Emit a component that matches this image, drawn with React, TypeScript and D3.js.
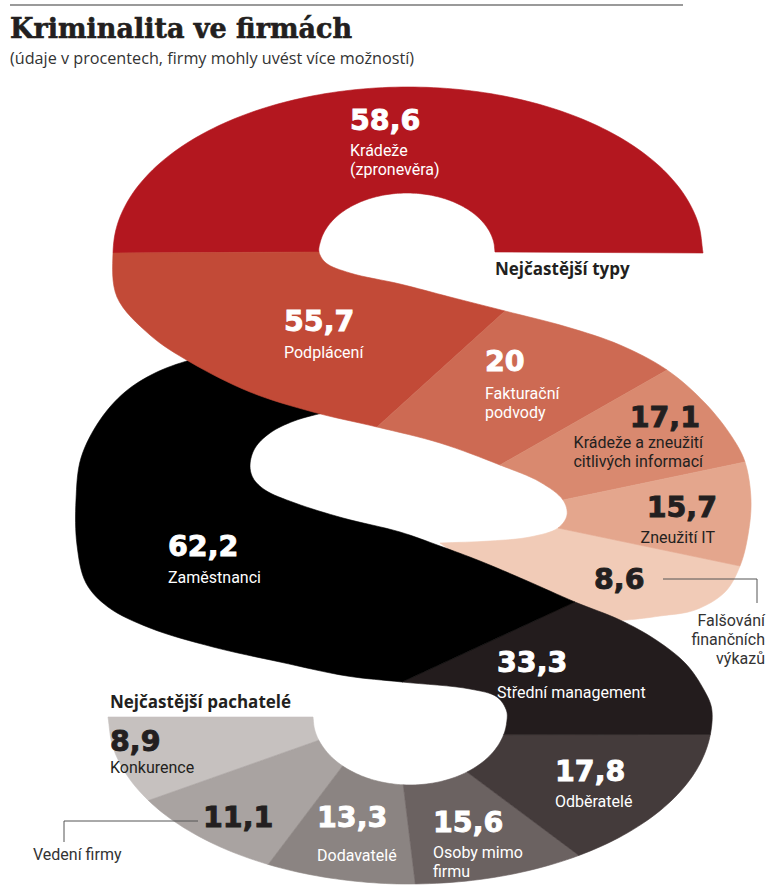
import React from "react";
import * as d3 from "d3";

// ---------------- data ----------------
const typeValues = [58.6, 55.7, 20, 17.1, 15.7, 8.6];
const typeLabels: string[][] = [
  ["Krádeže", "(zpronevěra)"],
  ["Podplácení"],
  ["Fakturační", "podvody"],
  ["Krádeže a zneužití", "citlivých informací"],
  ["Zneužití IT"],
  ["Falšování", "finančních", "výkazů"],
];
const typeColors = ["#b3171f", "#c24a37", "#cd6a53", "#d9896f", "#e4a68d", "#f1cbb7"];

const perpValues = [8.9, 11.1, 13.3, 15.6, 17.8, 33.3, 62.2];
const perpLabels: string[][] = [
  ["Konkurence"],
  ["Vedení firmy"],
  ["Dodavatelé"],
  ["Osoby mimo", "firmu"],
  ["Odběratelé"],
  ["Střední management"],
  ["Zaměstnanci"],
];
const perpColors = ["#c6c1bf", "#a9a3a1", "#8b8482", "#6b6261", "#443b3b", "#231c1d", "#000000"];

const title = "Kriminalita ve firmách";
const subtitle = "(údaje v procentech, firmy mohly uvést více možností)";
const typesHeading = "Nejčastější typy";
const perpHeading = "Nejčastější pachatelé";

// ---------------- layout (label placement) ----------------
const DARK = "#231f20";
type Lay = { x: number; y: number; anchor: "start" | "end"; fill: string; lx: number; ly: number; lanchor: "start" | "end"; lfill: string; gap: number };
const typeLayout: Lay[] = [
  { x: 350, y: 130, anchor: "start", fill: "#fff", lx: 350, ly: 156, lanchor: "start", lfill: "#fff", gap: 19 },
  { x: 284, y: 331, anchor: "start", fill: "#fff", lx: 284, ly: 358, lanchor: "start", lfill: "#fff", gap: 19 },
  { x: 485, y: 371, anchor: "start", fill: "#fff", lx: 485, ly: 399, lanchor: "start", lfill: "#fff", gap: 19 },
  { x: 700, y: 427, anchor: "end", fill: DARK, lx: 703, ly: 448, lanchor: "end", lfill: DARK, gap: 19 },
  { x: 717, y: 517, anchor: "end", fill: DARK, lx: 715, ly: 543, lanchor: "end", lfill: DARK, gap: 19 },
  { x: 594, y: 589, anchor: "start", fill: DARK, lx: 765, ly: 626, lanchor: "end", lfill: "#333", gap: 19 },
];
const perpLayout: Lay[] = [
  { x: 110, y: 751, anchor: "start", fill: DARK, lx: 110, ly: 773, lanchor: "start", lfill: DARK, gap: 19 },
  { x: 203, y: 827, anchor: "start", fill: DARK, lx: 33, ly: 860, lanchor: "start", lfill: "#333", gap: 19 },
  { x: 317, y: 827, anchor: "start", fill: "#fff", lx: 317, ly: 861, lanchor: "start", lfill: "#fff", gap: 19 },
  { x: 433, y: 832, anchor: "start", fill: "#fff", lx: 433, ly: 858, lanchor: "start", lfill: "#fff", gap: 19 },
  { x: 555, y: 781, anchor: "start", fill: "#fff", lx: 555, ly: 807, lanchor: "start", lfill: "#fff", gap: 19 },
  { x: 497, y: 672, anchor: "start", fill: "#fff", lx: 497, ly: 698, lanchor: "start", lfill: "#fff", gap: 19 },
  { x: 168, y: 556, anchor: "start", fill: "#fff", lx: 168, ly: 583, lanchor: "start", lfill: "#fff", gap: 19 },
];

// ---------------- § shape geometry ----------------
type Key = number[]; // [x, y, boundaryId?]
const rad = Math.PI / 180;
function ell(cx: number, cy: number, rx: number, ry: number, angles: number[], marks: number[][]): Key[] {
  return angles.map((a) => {
    const k: Key = [cx + rx * Math.cos(a * rad), cy + ry * Math.sin(a * rad)];
    const m = marks.find((mm) => mm[0] === a);
    if (m) k.push(m[1]);
    return k;
  });
}

// upper S (types): A = outer edge of top arc -> lower band edge -> hole tip
const S1A: Key[] = [
  ...ell(408, 253, 295, 166, d3.range(0, -181, -10), [[0, 0], [-180, 1]]),
  [117, 297], [150, 335], [190, 362], [250, 392], [313, 412], [377, 427, 2], [440, 443], [500, 465, 3],
  [540, 482], [563, 500, 4], [567, 515], [558, 528, 5], [530, 537], [490, 541], [440, 543, 6],
];
const S1B: Key[] = [
  ...ell(407, 252, 88, 59, d3.range(0, -181, -10), [[0, 0], [-180, 1]]),
  [326, 263], [350, 273], [400, 284], [450, 297], [505, 311, 2], [567, 327], [620, 345], [667, 370, 3],
  [705, 403], [732, 437], [745, 462, 4], [751, 500], [748, 535], [740, 566, 5], [725, 592], [695, 610],
  [660, 616], [627, 620], [590, 622], [550, 622, 6],
];
// lower S (perpetrators)
const S2A: Key[] = [
  ...ell(410, 717, 302, 167, [180, 170, 160, 150, 140, 129, 118, 108, 98, 89, 78, 67, 56, 45, 34, 24, 15, 6, -3],
    [[180, 0], [150, 1], [118, 2], [89, 3], [56, 4], [6, 5]]),
  [704, 690], [686, 664], [656, 640], [620, 620], [575, 602, 6], [525, 580], [480, 561], [440, 546], [400, 532],
  [343, 518], [295, 503], [265, 490], [253, 478], [250, 465], [255, 448], [270, 433], [294, 421], [330, 411, 7],
];
const S2B: Key[] = [
  ...ell(410, 717, 97, 68, [180, 170, 160, 147, 134, 120, 107, 94, 80, 67, 54, 40, 27, 15, 5, -5],
    [[180, 0], [160, 1], [134, 2], [94, 3], [54, 4], [15, 5]]),
  [497, 697], [470, 689], [402, 682, 6], [347, 676], [280, 662], [213, 647], [150, 628], [108, 607], [86, 583],
  [77, 545], [76, 500], [81, 458], [100, 420], [125, 392], [155, 373], [190, 360], [235, 349], [285, 344, 7],
];

function cr(p0: number[], p1: number[], p2: number[], p3: number[], u: number): [number, number] {
  const d = (a: number[], b: number[]) => Math.max(Math.sqrt(Math.hypot(b[0] - a[0], b[1] - a[1])), 1e-3);
  const t0 = 0, t1 = d(p0, p1), t2 = t1 + d(p1, p2), t3 = t2 + d(p2, p3);
  const t = t1 + (t2 - t1) * u;
  const L = (a: number[], b: number[], ta: number, tb: number) => [
    ((tb - t) / (tb - ta)) * a[0] + ((t - ta) / (tb - ta)) * b[0],
    ((tb - t) / (tb - ta)) * a[1] + ((t - ta) / (tb - ta)) * b[1],
  ];
  const A1 = L(p0, p1, t0, t1), A2 = L(p1, p2, t1, t2), A3 = L(p2, p3, t2, t3);
  const B1 = L(A1, A2, t0, t2), B2 = L(A2, A3, t1, t3);
  const C = L(B1, B2, t1, t2);
  return [C[0], C[1]];
}

function sample(keys: Key[], steps = 8) {
  const n = keys.length;
  const pts: [number, number][] = [];
  const at: Record<number, number> = {};
  for (let i = 0; i < n; i++) {
    if (keys[i].length > 2) at[keys[i][2]] = pts.length;
    const p1 = keys[i];
    if (i === n - 1) { pts.push([p1[0], p1[1]]); break; }
    const p2 = keys[i + 1];
    const p0 = i > 0 ? keys[i - 1] : [2 * p1[0] - p2[0], 2 * p1[1] - p2[1]];
    const p3 = i < n - 2 ? keys[i + 2] : [2 * p2[0] - p1[0], 2 * p2[1] - p1[1]];
    for (let s = 0; s < steps; s++) pts.push(cr(p0, p1, p2, p3, s / steps));
  }
  return { pts, at };
}

const line = d3.line<[number, number]>();
function segPath(A: ReturnType<typeof sample>, B: ReturnType<typeof sample>, i: number) {
  const a0 = A.at[i], a1 = A.at[i + 1], b0 = B.at[i], b1 = B.at[i + 1];
  const poly = [...A.pts.slice(a0, a1 + 1), ...B.pts.slice(b0, b1 + 1).reverse()];
  return (line(poly) || "") + "Z";
}

const fmt = (v: number) => (Number.isInteger(v) ? String(v) : d3.format(".1f")(v).replace(".", ","));

const NUM_FONT = "'DejaVu Sans', sans-serif";
const LAB_FONT = "Roboto, 'Open Sans', sans-serif";

export default function App() {
  const a1 = sample(S1A), b1 = sample(S1B), a2 = sample(S2A), b2 = sample(S2B);
  const typeSegs = typeValues.map((v, i) => ({ v, i, d: segPath(a1, b1, i), color: typeColors[i] }));
  const perpSegs = perpValues.map((v, i) => ({ v, i, d: segPath(a2, b2, i), color: perpColors[i] }));
  const last = typeSegs.length - 1;
  const ordered = [typeSegs[last], ...perpSegs, ...typeSegs.slice(0, last)];

  const numText = (v: number, l: Lay, key: string) => (
    <text key={key} x={l.x} y={l.y} textAnchor={l.anchor} fill={l.fill} stroke={l.fill} strokeWidth={0.9}
      style={{ fontFamily: NUM_FONT, fontWeight: 700, fontSize: 28.5 }}>{fmt(v)}</text>
  );
  const labText = (lines: string[], l: Lay, key: string) => (
    <text key={key} textAnchor={l.lanchor} fill={l.lfill} style={{ fontFamily: LAB_FONT, fontSize: 16 }}>
      {lines.map((s, j) => (
        <tspan key={j} x={l.lx} y={l.ly + j * l.gap}>{s}</tspan>
      ))}
    </text>
  );

  return (
    <svg width={768} height={885} viewBox="0 0 768 885"
      style={{ position: "absolute", left: 0, top: 0, background: "#fff", display: "block" }}>
      <rect x={0} y={0} width={768} height={885} fill="#fff" />
      <line x1={10} x2={683} y1={5} y2={5} stroke="#9a9a9a" strokeWidth={2} />
      <text x={10} y={38} fill={DARK} stroke={DARK} strokeWidth={0.6}
        style={{ fontFamily: "'DejaVu Serif', serif", fontWeight: 700, fontSize: 27 }}>{title}</text>
      <text x={10} y={64} fill="#333" style={{ fontFamily: "'Open Sans', sans-serif", fontSize: 16.2 }}>{subtitle}</text>

      {ordered.map((s, k) => (
        <path key={k} d={s.d} fill={s.color} stroke={s.color} strokeWidth={0.6} />
      ))}

      <text x={495} y={275} fill={DARK} style={{ fontFamily: "'Open Sans', sans-serif", fontWeight: 700, fontSize: 17 }}>{typesHeading}</text>
      <text x={110} y={708} fill={DARK} style={{ fontFamily: "'Open Sans', sans-serif", fontWeight: 700, fontSize: 17 }}>{perpHeading}</text>

      {/* leader lines */}
      <path d="M663,579H757V603" fill="none" stroke="#555" strokeWidth={1} />
      <path d="M198,821H64V842" fill="none" stroke="#555" strokeWidth={1} />

      {typeValues.map((v, i) => numText(v, typeLayout[i], "tn" + i))}
      {typeLabels.map((ls, i) => labText(ls, typeLayout[i], "tl" + i))}
      {perpValues.map((v, i) => numText(v, perpLayout[i], "pn" + i))}
      {perpLabels.map((ls, i) => labText(ls, perpLayout[i], "pl" + i))}
    </svg>
  );
}
